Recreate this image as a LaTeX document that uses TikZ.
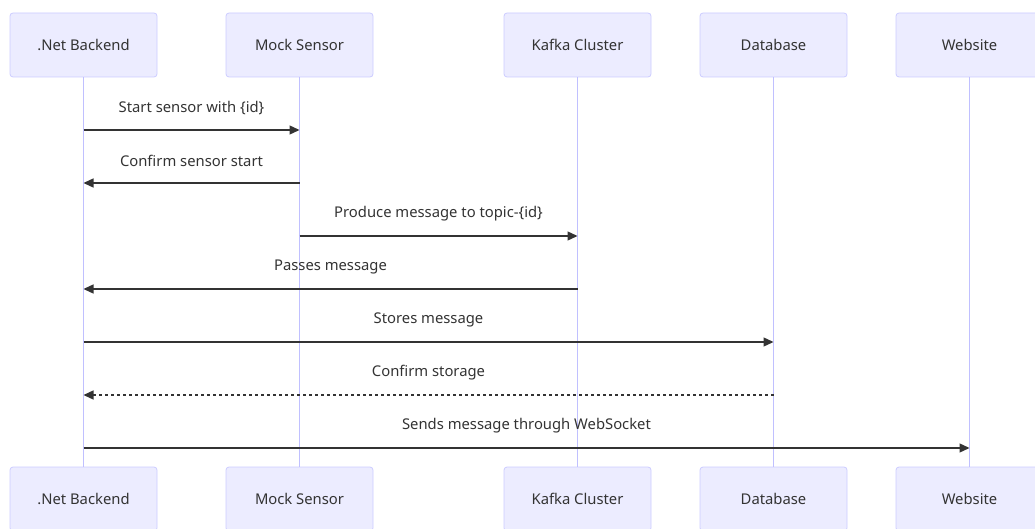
\documentclass[tikz,border=0pt]{standalone}
\usepackage{fontspec}
\setmainfont{Noto Sans}
\usetikzlibrary{arrows.meta,calc}
\usepackage{xcolor}
\definecolor{actorfill}{HTML}{ECECFF}
\definecolor{actorline}{HTML}{CCCCFF}
\definecolor{lifeline}{HTML}{C0C0FF}
\definecolor{msgline}{HTML}{333333}

\begin{document}
\begin{tikzpicture}[x=1pt,y=-1pt,
  actor/.style={draw=actorline, fill=actorfill, rounded corners=3pt, line width=0.8pt,
    minimum width=147pt, minimum height=64pt, inner sep=0pt, text=msgline,
    font=\fontsize{14.8}{18}\selectfont},
  life/.style={draw=lifeline, line width=1.3pt},
  msg/.style={draw=msgline, line width=1.3pt, -{Triangle[length=10pt,width=9pt]}},
  reply/.style={msg, dash pattern=on 3pt off 3pt},
  lbl/.style={text=msgline, font=\fontsize{14.8}{18}\selectfont, yshift=22pt}]

\useasboundingbox (0,0) rectangle (1035,529);
\clip (0,0) rectangle (1035,529);

\node[actor] (backend) at (83.5,45) {.Net Backend};
\node[actor] (sensor) at (299.5,45) {Mock Sensor};
\node[actor] (kafka) at (577.5,45) {Kafka Cluster};
\node[actor] (db) at (773.5,45) {Database};
\node[actor] (web) at (969.5,45) {Website};

\node[actor] (backendB) at (83.5,499) {.Net Backend};
\node[actor] (sensorB) at (299.5,499) {Mock Sensor};
\node[actor] (kafkaB) at (577.5,499) {Kafka Cluster};
\node[actor] (dbB) at (773.5,499) {Database};
\node[actor] (webB) at (969.5,499) {Website};

\draw[life] (backend) -- (backendB);
\draw[life] (sensor) -- (sensorB);
\draw[life] (kafka) -- (kafkaB);
\draw[life] (db) -- (dbB);
\draw[life] (web) -- (webB);

% message rows
\coordinate (m1) at (0,130);
\coordinate (m2) at (0,183);
\coordinate (m3) at (0,236);
\coordinate (m4) at (0,289);
\coordinate (m5) at (0,342);
\coordinate (m6) at (0,395);
\coordinate (m7) at (0,448);

\draw[msg] (backend |- m1) -- node[lbl] {Start sensor with \{id\}} (sensor |- m1);
\draw[msg] (sensor |- m2) -- node[lbl] {Confirm sensor start} (backend |- m2);
\draw[msg] (sensor |- m3) -- node[lbl] {Produce message to topic-\{id\}} (kafka |- m3);
\draw[msg] (kafka |- m4) -- node[lbl] {Passes message} (backend |- m4);
\draw[msg] (backend |- m5) -- node[lbl] {Stores message} (db |- m5);
\draw[reply] (db |- m6) -- node[lbl] {Confirm storage} (backend |- m6);
\draw[msg] (backend |- m7) -- node[lbl] {Sends message through WebSocket} (web |- m7);

\end{tikzpicture}
\end{document}
